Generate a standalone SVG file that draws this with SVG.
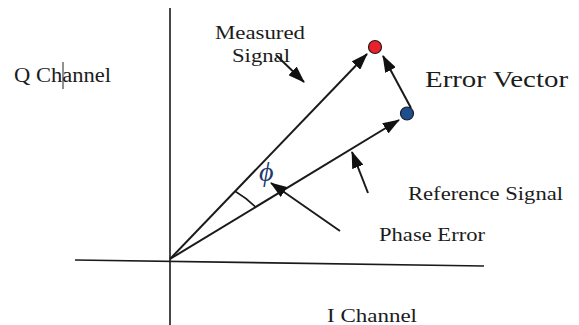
<svg xmlns="http://www.w3.org/2000/svg" width="579" height="325" viewBox="0 0 579 325">
<style>
  text { font-family: "Liberation Serif", "Times New Roman", serif; fill: #1c1c1c; }
  .axis { stroke: #1a1a1a; stroke-width: 1.6; fill: none; }
  .ptr { stroke: #1a1a1a; stroke-width: 2; fill: none; marker-end: url(#ah); }
</style>
<defs>
  <marker id="ah" viewBox="0 0 17 12" refX="16" refY="6" markerWidth="17" markerHeight="12" markerUnits="userSpaceOnUse" orient="auto">
    <path d="M0,0 L17,6 L0,12 Z" fill="#111"/>
  </marker>
</defs>
<rect width="579" height="325" fill="#fff"/>

<g id="axes">
  <line class="axis" x1="170" y1="8" x2="170" y2="325"/>
  <line class="axis" x1="75" y1="260" x2="484" y2="266"/>
</g>

<g id="connectors">
  <line class="ptr" x1="170" y1="259" x2="367" y2="54"/>
  <line class="ptr" x1="170" y1="259" x2="399" y2="120"/>
  <line class="ptr" x1="411" y1="108" x2="383" y2="56"/>
  <line class="ptr" x1="276" y1="55" x2="304" y2="82"/>
  <line class="ptr" x1="368" y1="193" x2="352" y2="152"/>
  <line class="ptr" x1="340" y1="231" x2="271" y2="183"/>
  <path class="axis" d="M235.5,191.5 A97,97 0 0 1 255.5,207"/>
</g>

<g id="measured-point">
  <circle cx="375" cy="47" r="6.5" fill="#e8212b" stroke="#2a1a1a" stroke-width="1.2"/>
</g>
<g id="reference-point">
  <circle cx="407" cy="113.5" r="6.5" fill="#1d4f8e" stroke="#1a1a2a" stroke-width="1.2"/>
</g>

<g id="labels">
  <text x="14" y="82" font-size="20" textLength="97" lengthAdjust="spacingAndGlyphs">Q Channel</text>
  <line x1="63" y1="62" x2="63" y2="89" stroke="#222" stroke-width="1"/>
  <text x="215" y="39" font-size="19" textLength="90" lengthAdjust="spacingAndGlyphs">Measured</text>
  <text x="232" y="62" font-size="19" textLength="58" lengthAdjust="spacingAndGlyphs">Signal</text>
  <text x="425" y="87" font-size="23" textLength="143" lengthAdjust="spacingAndGlyphs">Error Vector</text>
  <text x="408" y="200" font-size="19" textLength="155" lengthAdjust="spacingAndGlyphs">Reference Signal</text>
  <text x="379" y="241" font-size="19" textLength="106" lengthAdjust="spacingAndGlyphs">Phase Error</text>
  <text x="327" y="322" font-size="19" textLength="90" lengthAdjust="spacingAndGlyphs">I Channel</text>
  <text x="259" y="181" font-size="28" font-style="italic" style="fill:#23396b">ϕ</text>
</g>
</svg>
